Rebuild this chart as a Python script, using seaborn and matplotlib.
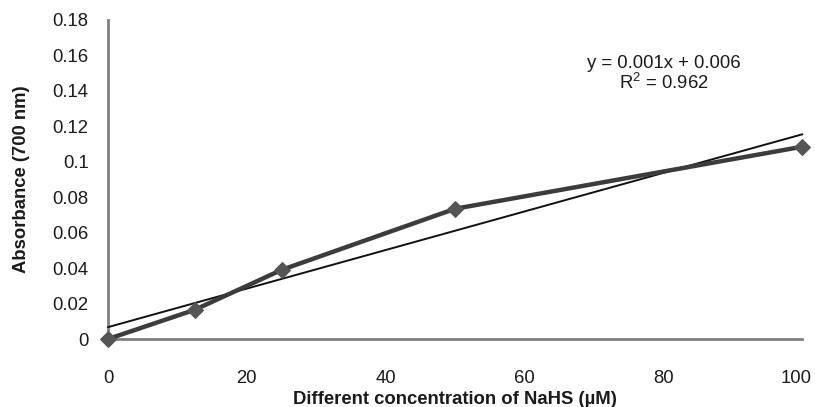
import matplotlib
matplotlib.use("Agg")
import matplotlib.pyplot as plt
import matplotlib.transforms as mtransforms
import seaborn as sns
import pandas as pd

# Data
concentration = [0, 12.5, 25, 50, 100]
absorbance = [0.0, 0.0165, 0.039, 0.0735, 0.1085]
y_ticks = [0, 0.02, 0.04, 0.06, 0.08, 0.1, 0.12, 0.14, 0.16, 0.18]
y_tick_labels = ["0", "0.02", "0.04", "0.06", "0.08", "0.1", "0.12", "0.14", "0.16", "0.18"]
x_ticks = [0, 20, 40, 60, 80, 100]
x_tick_labels = ["0", "20", "40", "60", "80", "100"]
equation_text = "y = 0.001x + 0.006"
r2_text = "R$^{2}$ = 0.962"
x_label = "Different concentration of NaHS (µM)"
y_label = "Absorbance (700 nm)"

df = pd.DataFrame({"conc": concentration, "abs": absorbance})

sns.set_theme(style="white")
plt.rcParams["font.family"] = ["Liberation Sans", "DejaVu Sans"]
plt.rcParams["mathtext.fontset"] = "custom"
plt.rcParams["mathtext.rm"] = "Liberation Sans"
plt.rcParams["mathtext.it"] = "Liberation Sans"
plt.rcParams["mathtext.default"] = "regular"

FS = 13.3
TXT = "#1a1a1a"

fig = plt.figure(figsize=(8.15, 4.07), dpi=100)
ax = fig.add_axes([0.1325, 0.167, 0.852, 0.784])

sns.regplot(data=df, x="conc", y="abs", scatter=False, ci=None, ax=ax,
            line_kws=dict(color="#111111", lw=1.4, zorder=3))
sns.lineplot(data=df, x="conc", y="abs", ax=ax, color="#3c3c3c", lw=3.2,
             marker="D", markersize=8, markerfacecolor="#555555",
             markeredgecolor="#555555", zorder=4)

ax.set_xlim(0, 100)
ax.set_ylim(0, 0.18)
ax.set_xticks(x_ticks)
ax.set_xticklabels(x_tick_labels)
ax.set_yticks(y_ticks)
ax.set_yticklabels(y_tick_labels)
ax.tick_params(axis="both", length=0, labelsize=FS, colors=TXT)
ax.tick_params(axis="x", pad=22)
ax.tick_params(axis="y", pad=14)

# nudge the last x tick label left so it stays inside the figure
last = ax.get_xticklabels()[-1]
last.set_transform(last.get_transform() +
                   mtransforms.ScaledTranslation(-6 / 100, 0, fig.dpi_scale_trans))

for side in ["top", "right"]:
    ax.spines[side].set_visible(False)
for side in ["left", "bottom"]:
    ax.spines[side].set_color("#7f7f7f")
    ax.spines[side].set_linewidth(2)
    ax.spines[side].set_zorder(1)

ax.set_xlabel(x_label, fontsize=FS, fontweight="bold", color=TXT, labelpad=3)
ax.set_ylabel(y_label, fontsize=FS, fontweight="bold", color=TXT, labelpad=16)

ax.text(80.0, 0.1557, equation_text, ha="center", va="center", fontsize=FS, color=TXT)
ax.text(80.0, 0.1445, r2_text, ha="center", va="center", fontsize=FS, color=TXT)

for line in ax.lines:
    line.set_clip_on(False)

fig.savefig("out.png", dpi=100)
